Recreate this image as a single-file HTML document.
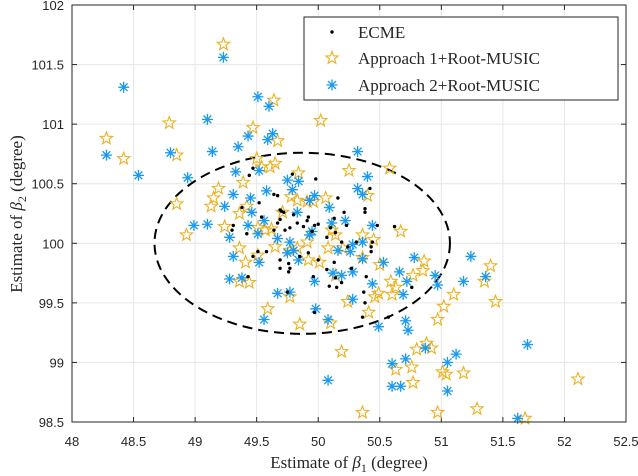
<!DOCTYPE html>
<html><head><meta charset="utf-8"><style>
body{margin:0;background:#fff;}
svg{display:block;}
.tick{font-family:"Liberation Sans",sans-serif;font-size:13px;fill:#262626;}
.lab{font-family:"Liberation Serif",serif;font-size:17px;fill:#262626;}
</style></head><body>
<svg id="chart" width="638" height="476"></svg>
<script>
const xTicks=[48,48.5,49,49.5,50,50.5,51,51.5,52,52.5];
const yTicks=[98.5,99,99.5,100,100.5,101,101.5,102];
const starX=[49.23,48.28,48.42,48.79,48.85,48.85,49.64,49.47,49.67,49.50,49.54,49.61,49.65,50.02,49.84,49.39,49.19,49.15,49.13,49.36,49.42,49.71,49.78,49.83,49.91,49.96,50.06,50.25,50.58,50.40,49.24,49.51,49.62,49.57,48.93,49.36,49.41,49.51,49.65,49.77,49.83,49.91,50.11,50.14,50.08,49.92,50.01,50.20,50.36,50.45,50.36,50.67,50.50,50.86,50.85,50.77,50.59,50.63,50.60,50.46,50.49,50.24,50.41,50.14,49.36,49.44,49.77,49.59,50.10,49.85,50.97,51.02,51.10,51.40,51.35,51.44,50.19,50.80,50.88,50.92,50.63,50.76,50.77,51.01,51.04,51.18,50.36,50.97,51.29,51.68,52.11];
const starY=[101.67,100.88,100.71,101.01,100.74,100.33,101.20,100.97,100.86,100.71,100.64,100.64,100.67,101.03,100.59,100.51,100.46,100.38,100.31,100.25,100.31,100.26,100.39,100.36,100.35,100.35,100.38,100.61,100.63,100.40,100.14,100.13,100.12,100.11,100.07,99.96,99.84,99.90,99.97,99.94,99.96,100.01,100.11,100.07,99.96,99.86,99.84,99.96,100.07,100.03,99.88,100.10,99.82,99.85,99.77,99.73,99.68,99.63,99.57,99.55,99.58,99.51,99.42,99.73,99.68,99.67,99.55,99.45,99.33,99.32,99.36,99.47,99.57,99.81,99.68,99.51,99.09,99.11,99.16,99.12,98.94,98.96,98.83,98.92,98.90,98.91,98.58,98.58,98.61,98.53,98.86];
const astX=[49.23,48.42,48.28,48.54,48.80,48.94,49.10,49.14,49.35,49.43,49.51,49.60,49.63,49.59,49.33,49.52,49.31,49.24,49.45,49.46,49.58,49.75,49.84,49.79,49.83,49.97,49.93,50.09,50.32,50.40,50.32,50.36,48.99,49.10,49.28,49.43,49.51,49.56,49.67,49.77,49.80,49.75,49.84,49.93,49.95,50.11,50.22,50.44,50.16,50.26,50.28,50.36,50.36,49.31,49.52,49.28,49.38,50.12,50.19,50.28,49.97,50.44,50.53,50.78,50.66,50.72,50.69,50.95,50.97,51.18,51.24,51.36,49.67,49.77,50.28,49.98,49.56,50.08,50.49,50.71,50.73,50.08,50.87,51.12,51.05,50.71,50.60,50.60,50.67,51.05,51.70,51.62];
const astY=[101.56,101.31,100.74,100.57,100.76,100.55,101.04,100.77,100.81,100.90,101.23,101.15,100.92,100.87,100.60,100.61,100.41,100.31,100.38,100.26,100.44,100.53,100.52,100.45,100.26,100.40,100.36,100.30,100.77,100.56,100.46,100.41,100.15,100.16,100.05,100.15,100.08,100.19,100.04,100.01,99.94,99.92,99.86,100.07,100.10,100.17,100.19,100.15,99.94,99.93,99.99,100.01,99.87,99.89,99.84,99.70,99.71,99.75,99.73,99.76,99.68,99.66,99.84,99.88,99.76,99.68,99.57,99.73,99.65,99.68,99.89,99.72,99.58,99.59,99.53,99.45,99.36,99.36,99.30,99.35,99.27,98.85,99.12,99.07,99.00,99.03,98.99,98.80,98.80,98.76,99.15,98.53];
const dotX=[49.44,49.52,49.64,49.67,49.70,49.79,49.98,50.16,49.38,49.54,49.92,49.47,49.69,49.67,49.69,49.72,49.80,50.21,50.13,50.38,50.38,50.42,49.31,49.30,49.42,49.64,49.73,49.77,49.83,49.91,49.88,49.97,50.00,49.95,50.10,50.07,50.14,50.19,50.24,50.31,50.44,50.43,50.43,50.48,50.62,49.51,49.47,49.58,49.69,49.76,49.69,49.77,49.76,49.85,49.92,50.00,49.96,50.07,50.13,50.14,50.09,50.15,50.19,50.27,50.39,50.37,50.38,50.36,50.57,50.76,49.43,49.75,49.97,50.23];
const dotY=[100.57,100.34,100.41,100.40,100.27,100.58,100.54,100.38,100.30,100.22,100.22,100.63,100.28,100.17,100.20,100.26,100.24,100.26,100.21,100.29,100.26,100.46,100.15,100.11,100.08,100.11,100.11,100.13,100.17,100.19,100.14,100.15,100.16,100.10,100.13,100.05,100.09,100.01,99.97,100.01,100.01,99.97,99.93,100.15,100.14,99.93,99.89,99.93,99.86,99.83,99.79,99.79,99.76,99.89,99.92,99.86,99.72,99.78,99.84,99.71,99.64,99.63,99.67,99.79,99.72,99.59,99.50,99.38,99.38,99.63,99.72,99.59,99.42,100.15];
const ellipse=[49.87,100.0,1.2,0.76];

const NS="http://www.w3.org/2000/svg";
const svg=document.getElementById('chart');
const L=72,R=626,T=5,B=422;
const sx=v=>L+(v-48)/(52.5-48)*(R-L);
const sy=v=>B-(v-98.5)/(102-98.5)*(B-T);
function mk(tag,attrs,parent){const e=document.createElementNS(NS,tag);for(const k in attrs)e.setAttribute(k,attrs[k]);(parent||svg).appendChild(e);return e;}

const grid=mk('g',{});


xTicks.forEach(t=>{mk('line',{x1:sx(t),x2:sx(t),y1:T,y2:B,stroke:'#e6e6e6','stroke-width':1},grid);});
yTicks.forEach(t=>{mk('line',{x1:L,x2:R,y1:sy(t),y2:sy(t),stroke:'#e6e6e6','stroke-width':1},grid);});

const xt=mk('g',{});


xTicks.forEach(t=>{
  const tx=mk('text',{x:sx(t),y:446,'text-anchor':'middle',class:'tick'},xt);tx.textContent=t;
  mk('line',{x1:sx(t),x2:sx(t),y1:B,y2:B-5,stroke:'#262626'},xt);
  mk('line',{x1:sx(t),x2:sx(t),y1:T,y2:T+5,stroke:'#262626'},xt);
});
const yt=mk('g',{});


yTicks.forEach(t=>{
  const tx=mk('text',{x:64,y:sy(t)+5,'text-anchor':'end',class:'tick'},yt);tx.textContent=t;
  mk('line',{x1:L,x2:L+5,y1:sy(t),y2:sy(t),stroke:'#262626'},yt);
  mk('line',{x1:R,x2:R-5,y1:sy(t),y2:sy(t),stroke:'#262626'},yt);
});

const ell=mk('ellipse',{cx:sx(ellipse[0]),cy:sy(ellipse[1]),rx:sx(ellipse[0]+ellipse[2])-sx(ellipse[0]),ry:sy(ellipse[1])-sy(ellipse[1]+ellipse[3]),fill:'none',stroke:'#000','stroke-width':2,'stroke-dasharray':'10 6'});



function starPath(cx,cy,r){let p='';for(let i=0;i<10;i++){const a=-Math.PI/2+i*Math.PI/5;const rr=i%2?r*0.42:r;p+=(i?'L':'M')+(cx+rr*Math.cos(a)).toFixed(2)+' '+(cy+rr*Math.sin(a)).toFixed(2);}return p+'Z';}
function astPath(cx,cy,r){let p='';for(let i=0;i<4;i++){const a=i*Math.PI/4;p+='M'+(cx-r*Math.cos(a))+' '+(cy-r*Math.sin(a))+'L'+(cx+r*Math.cos(a))+' '+(cy+r*Math.sin(a));}return p;}

const gs=mk('g',{});


starX.forEach((x,i)=>{const e=mk('path',{d:starPath(sx(x),sy(starY[i]),6.5),fill:'none',stroke:'#EDB120','stroke-width':1.1},gs);

});
const ga=mk('g',{});


astX.forEach((x,i)=>{const e=mk('path',{d:astPath(sx(x),sy(astY[i]),5.5),fill:'none',stroke:'#1a9af0','stroke-width':1.3},ga);

});
const gd=mk('g',{});


dotX.forEach((x,i)=>{const e=mk('circle',{cx:sx(x),cy:sy(dotY[i]),r:1.7,fill:'#000'},gd);

});

const box=mk('rect',{x:L,y:T,width:R-L,height:B-T,fill:'none',stroke:'#262626','stroke-width':1});



const lg=mk('g',{});


mk('rect',{x:304,y:17,width:314,height:83,fill:'#fff',stroke:'#262626','stroke-width':1},lg);
mk('circle',{cx:332,cy:32,r:1.7,fill:'#000'},lg);
mk('path',{d:starPath(332,58,6.5),fill:'none',stroke:'#EDB120','stroke-width':1.1},lg);
mk('path',{d:astPath(332,85,5.5),fill:'none',stroke:'#1a9af0','stroke-width':1.3},lg);
[['ECME',38],['Approach 1+Root-MUSIC',64],['Approach 2+Root-MUSIC',91]].forEach(([s,y])=>{const t=mk('text',{x:358,y:y,class:'lab'},lg);t.textContent=s;

});

const xl=mk('text',{x:349,y:468,'text-anchor':'middle',class:'lab'});
xl.innerHTML='Estimate of <tspan font-style="italic">β</tspan><tspan font-size="12" dy="4">1</tspan><tspan dy="-4"> (degree)</tspan>';


const yl=mk('text',{x:0,y:0,'text-anchor':'middle',class:'lab',transform:'translate(22,214) rotate(-90)'});
yl.innerHTML='Estimate of <tspan font-style="italic">β</tspan><tspan font-size="12" dy="4">2</tspan><tspan dy="-4"> (degree)</tspan>';


</script>
</body></html>
